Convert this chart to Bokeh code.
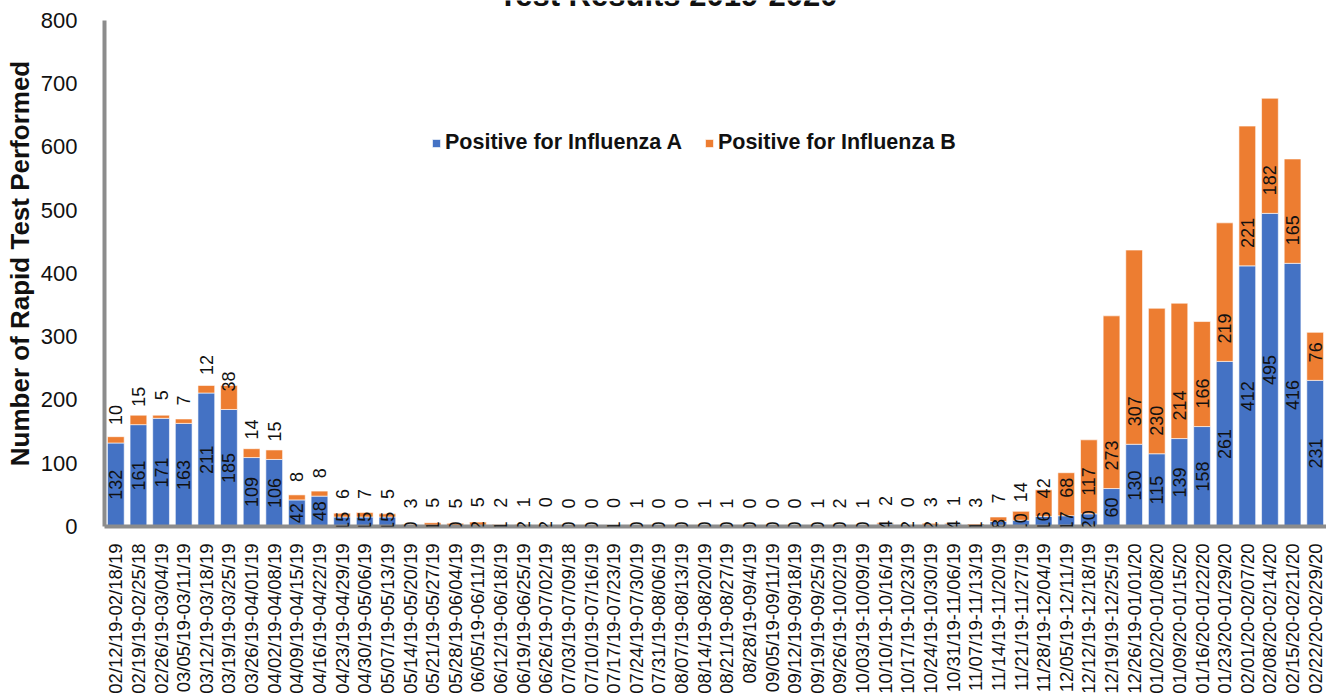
import math
from bokeh.plotting import figure
from bokeh.models import (ColumnDataSource, FactorRange, Range1d, FixedTicker,
                          LabelSet, Legend, LegendItem)
from bokeh.core.properties import value
from bokeh.embed import file_html
from bokeh.resources import INLINE

weeks = [
    "02/12/19-02/18/19", "02/19/19-02/25/18", "02/26/19-03/04/19", "03/05/19-03/11/19",
    "03/12/19-03/18/19", "03/19/19-03/25/19", "03/26/19-04/01/19", "04/02/19-04/08/19",
    "04/09/19-04/15/19", "04/16/19-04/22/19", "04/23/19-04/29/19", "04/30/19-05/06/19",
    "05/07/19-05/13/19", "05/14/19-05/20/19", "05/21/19-05/27/19", "05/28/19-06/04/19",
    "06/05/19-06/11/19", "06/12/19-06/18/19", "06/19/19-06/25/19", "06/26/19-07/02/19",
    "07/03/19-07/09/18", "07/10/19-07/16/19", "07/17/19-07/23/19", "07/24/19-07/30/19",
    "07/31/19-08/06/19", "08/07/19-08/13/19", "08/14/19-08/20/19", "08/21/19-08/27/19",
    "08/28/19-09/4/19", "09/05/19-09/11/19", "09/12/19-09/18/19", "09/19/19-09/25/19",
    "09/26/19-10/02/19", "10/03/19-10/09/19", "10/10/19-10/16/19", "10/17/19-10/23/19",
    "10/24/19-10/30/19", "10/31/19-11/06/19", "11/07/19-11/13/19", "11/14/19-11/20/19",
    "11/21/19-11/27/19", "11/28/19-12/04/19", "12/05/19-12/11/19", "12/12/19-12/18/19",
    "12/19/19-12/25/19", "12/26/19-01/01/20", "01/02/20-01/08/20", "01/09/20-01/15/20",
    "01/16/20-01/22/20", "01/23/20-01/29/20", "02/01/20-02/07/20", "02/08/20-02/14/20",
    "02/15/20-02/21/20", "02/22/20-02/29/20",
]
flu_a = [132, 161, 171, 163, 211, 185, 109, 106, 42, 48, 15, 15, 15, 0, 1, 0, 2, 1, 2, 2,
         0, 0, 1, 0, 0, 0, 0, 0, 0, 0, 0, 0, 0, 0, 4, 2, 2, 4, 1, 8,
         10, 16, 17, 20, 60, 130, 115, 139, 158, 261, 412, 495, 416, 231]
flu_b = [10, 15, 5, 7, 12, 38, 14, 15, 8, 8, 6, 7, 5, 3, 5, 5, 5, 2, 1, 0,
         0, 0, 0, 1, 0, 0, 1, 1, 0, 0, 0, 1, 2, 1, 2, 0, 3, 1, 3, 7,
         14, 42, 68, 117, 273, 307, 230, 214, 166, 219, 221, 182, 165, 76]
y_ticks = [0, 100, 200, 300, 400, 500, 600, 700, 800]

title_text = "Test Results 2019-2020"
y_title = "Number of Rapid Test Performed"
series_names = ["Positive for Influenza A", "Positive for Influenza B"]
colors = ["#4472C4", "#ED7D31"]
FONT = "Liberation Sans"

src = ColumnDataSource(dict(
    week=weeks, a=flu_a, b=flu_b,
    a_mid=[v / 2 for v in flu_a],
    a_lbl=[str(v) for v in flu_a],
    b_lbl=[str(v) for v in flu_b],
))

# frame reaches the top of the canvas; the value axis itself stops at 800
p = figure(x_range=FactorRange(factors=weeks, range_padding=0),
           y_range=Range1d(0, 831.5),
           width=1326, height=696,
           output_backend="svg", toolbar_location=None,
           min_border_left=104, min_border_right=0, min_border_top=0, min_border_bottom=0)

rs = p.vbar_stack(["a", "b"], x="week", width=0.74, color=colors, source=src,
                  line_color="white", line_width=0.6)

p.xgrid.grid_line_color = None
p.ygrid.grid_line_color = None
p.outline_line_color = None

for ax in (p.xaxis[0], p.yaxis[0]):
    ax.axis_line_color = "#8c8c8c"
    ax.axis_line_width = 4
    ax.major_tick_line_color = None
    ax.minor_tick_line_color = None
    ax.major_label_text_font = FONT
    ax.major_label_text_color = "#111111"

p.xaxis.major_label_orientation = math.pi / 2
p.xaxis.major_label_text_font_size = "18.5px"
p.xaxis.major_label_standoff = 11

p.yaxis.bounds = (0, 800)
p.yaxis.ticker = FixedTicker(ticks=y_ticks)
p.yaxis.major_label_text_font_size = "22px"
p.yaxis.major_label_standoff = 21
p.yaxis.axis_label = y_title
p.yaxis.axis_label_text_font = FONT
p.yaxis.axis_label_text_font_size = "26px"
p.yaxis.axis_label_text_font_style = "bold"
p.yaxis.axis_label_text_color = "#111111"
p.yaxis.axis_label_standoff = 3

lbl_a = LabelSet(x="week", y="a_mid", text="a_lbl", source=src, angle=math.pi / 2,
                 text_align="center", text_baseline="middle",
                 text_font=value(FONT), text_font_size=value("18px"),
                 text_color=value("#111111"))
lbl_b = LabelSet(x="week", y="a", text="b_lbl", source=src, angle=math.pi / 2,
                 y_offset=18, text_align="left", text_baseline="middle",
                 text_font=value(FONT), text_font_size=value("18px"),
                 text_color=value("#111111"))
p.add_layout(lbl_a)
p.add_layout(lbl_b)

# chart title, cut by the top edge as in the original picture
p.text(x=[24.9], y=[839.5], text=[title_text],
       text_font=value(FONT), text_font_size=value("31px"), text_font_style="bold",
       text_align="center", text_baseline="alphabetic", text_color="#111111")

legend = Legend(items=[LegendItem(label=series_names[0], renderers=[rs[0]]),
                       LegendItem(label=series_names[1], renderers=[rs[1]])],
                orientation="horizontal", location=(327, 371),
                border_line_color=None, background_fill_alpha=0,
                label_text_font=FONT, label_text_font_size="21.5px",
                label_text_font_style="bold", label_text_color="#111111",
                glyph_width=10, glyph_height=10, label_standoff=4,
                spacing=22, padding=0, margin=0)
p.add_layout(legend)

open("out.html", "w").write(file_html(p, INLINE))
